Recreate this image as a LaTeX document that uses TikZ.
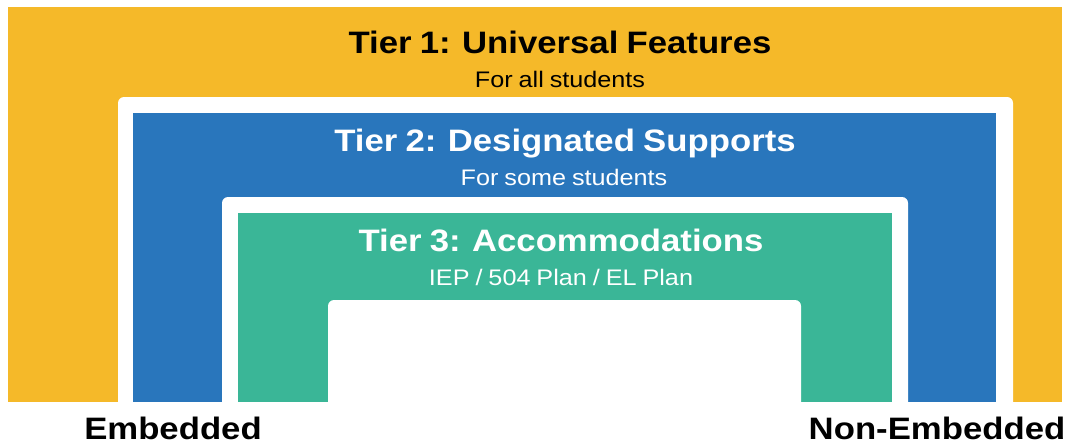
\documentclass[tikz,border=0pt]{standalone}
\usepackage{fontspec}
\setmainfont{Liberation Sans}
\newfontfamily\tierfont[FakeStretch=1.12, WordSpace=0.85]{Liberation Sans}
\definecolor{tieryellow}{RGB}{245,185,41}
\definecolor{tierblue}{RGB}{41,118,188}
\definecolor{tiergreen}{RGB}{58,182,151}
\begin{document}
\begin{tikzpicture}[
                            x=1pt, y=-1pt,
                            gap/.style={fill=white, rounded corners=6pt},
                            title/.style={anchor=base, inner sep=0pt, font=\tierfont\bfseries\fontsize{31}{36}\selectfont},
                            subtitle/.style={anchor=base, inner sep=0pt, font=\tierfont\fontsize{22.5}{26}\selectfont}
                            ]
            
                            \useasboundingbox (0,0) rectangle (1068,444);
                            \fill[tieryellow] (8,7) rectangle (1062,402);
                            \fill[gap] (118,97) rectangle (1013,412);
                            \fill[tierblue] (133,113) rectangle (996,402);
                            \fill[gap] (222,197) rectangle (908,412);
                            \fill[tiergreen] (238,213) rectangle (892,402);
                            \fill[gap] (328,300) rectangle (801,412);
                            
                            \node [title] (t1title) at (560,54) {Tier 1: Universal Features};
                            \node [subtitle] (t1sub) at (560,87) {For all students};
                            \node [title, text=white] (t2title) at (565,151) {Tier 2: Designated Supports};
                            \node [subtitle, text=white] (t2sub) at (564,185) {For some students};
                            \node [title, text=white] (t3title) at (561,251) {Tier 3: Accommodations};
                            \node [subtitle, text=white] (t3sub) at (561,285) {IEP / 504 Plan / EL Plan};
                            
                            \node [title] (embedded) at (173,439.5) {Embedded};
                            \node [title] (nonembedded) at (937,439.5) {Non-Embedded};
                        \end{tikzpicture}
\end{document}
